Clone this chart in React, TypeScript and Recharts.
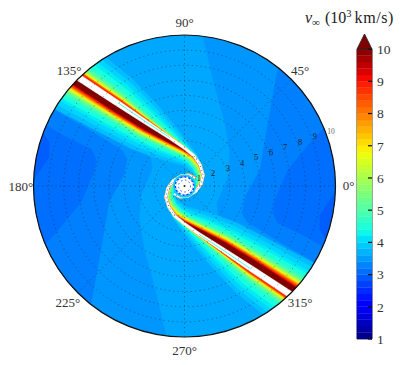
import React from 'react';
import { ScatterChart, Scatter, XAxis, YAxis, ReferenceDot, ReferenceLine, BarChart, Bar, ReferenceArea } from 'recharts';

// ---------- colour scale ----------
const cmapLo = 1;
const cmapHi = 10;
const cmapStep = 0.2;
const tickValues = [1, 2, 3, 4, 5, 6, 7, 8, 9, 10];
const clamp = (a: number) => Math.max(0, Math.min(1, a));
const hex = (a: number) => Math.round(clamp(a) * 255).toString(16).padStart(2, '0');
function jet(v: number) {
  const t = (v - cmapLo) / (cmapHi - cmapLo);
  const r = t < 0.35 ? 0 : t < 0.66 ? (t - 0.35) / 0.31 : t < 0.89 ? 1 : 1 - ((t - 0.89) / 0.11) * 0.5;
  const g = t < 0.125 ? 0 : t < 0.375 ? (t - 0.125) / 0.25 : t < 0.64 ? 1 : t < 0.91 ? 1 - (t - 0.64) / 0.27 : 0;
  const b = t < 0.11 ? 0.5 + (t / 0.11) * 0.5 : t < 0.34 ? 1 : t < 0.65 ? 1 - (t - 0.34) / 0.31 : 0;
  return '#' + hex(r) + hex(g) + hex(b);
}

// ---------- background speed contours (half of the plane; other half by point symmetry) ----------
const baseSpeed = 3.6;
const speedB0 = 3.45;
const contourB0 = [[1.23,10.99],[1.23,9.87],[2.02,6.56],[2.68,4.17],[3.01,2.19],[2.88,0.6],[2.15,-1.13],[2.22,-1.79],[2.88,-2.45],[3.68,-3.05],[8.97,-6.56],[10.96,-7.55],[14,-7.55],[14,10.99]];
const speedB1 = 3.25;
const contourB1 = [[6.19,9],[6.19,7.81],[5.53,4.17],[5,1.06],[4.01,-0.73],[3.81,-1.79],[4.14,-2.38],[6.85,-4.04],[8.18,-4.77],[10.3,-6.23],[14,-6.23],[14,9]];
const speedB2 = 3.1;
const contourB2 = [[10.3,4.9],[9.3,3.9],[8.64,3.25],[6.85,1.06],[5.99,-0.93],[5.86,-1.79],[6.19,-2.45],[7.98,-3.31],[10.63,-4.9],[14,-4.9],[14,4.9]];
const speedB3 = 2.95;
const contourB3 = [[10.63,0.4],[10.1,-0.26],[8.97,-1.92],[8.97,-2.91],[9.5,-3.71],[10.63,-4.57],[12,-4.57],[12,0.4]];

// ---------- shock arm: centre line, then band half-widths (in 1/15 radial unit) per station ----------
const armCentre = [[-7.72,7.65],[-4.4,5.46],[-2.42,4.14],[-0.96,3.18],[0.03,2.48],[0.63,1.99],[1.03,1.39],[1.23,0.73],[1.09,0.13],[0.76,-0.33],[0.23,-0.66],[-0.3,-0.73],[-0.7,-0.53]];
const armSpeeds = [3.8, 4.0, 4.2, 4.4, 4.6, 5.0, 5.5, 6.2, 6.8, 7.3, 7.8, 8.3, 8.8, 9.5, 10];
const armSouth = [
  [40,34,30,24,18,14,12,10,9,8,7,6,5],
  [35,30,26,20,15,12,10,8.5,7.5,6.5,5.5,5,4],
  [30,26,22,17,12,10,8,7,6,5,4,4,3],
  [27,23,19.5,15,10.5,9,7.5,6.5,5.5,4.5,3.5,3,2],
  [24,20,17,13,9,8,7,6,5,4,3,2,1],
  [21.5,18,15.5,11.5,8,7,6,5,4,3,2,1.5,0.8],
  [19,16,14,10,7,6,5,4,3,2,1,1,0.5],
  [17,14.5,12.5,9,6,5,3.5,2.5,2,1.5,1,1,0.5],
  [15,13,11.2,8,5,4,2.5,1.5,1,1,1,0.5,0.5],
  [14,12.3,10.4,7.2,4.2,3,2,1,1,1,1,0.5,0.5],
  [13,11.5,9.6,6.4,3.5,2,1.5,1,1,1,1,0.5,0.5],
  [12,10.7,9,5.8,3,1.5,1,1,1,1,1,0.5,0.5],
  [11,10,8.5,5.2,2.5,1,1,1,1,1,1,0.5,0.5],
  [9.5,9,7.5,4.8,2,1,1,1,1,1,1,0.5,0.5],
  [8.6,8.2,7,4.3,1.5,1,1,1,1,1,1,0.5,0.5],
];
const armNorth = [
  [34,28,20,12,6,3,2,1.3,1,1,1,1,1],
  [29,24,16.5,9.5,4.5,2.5,1.5,1,1,1,1,1,1],
  [24,20,13,7,3,2,1,1,1,1,1,1,1],
  [20,16.5,10.5,5.5,2.5,1.5,1,1,1,1,1,1,1],
  [16,13,8,4,2,1,1,1,1,1,1,1,1],
  [13.5,11,6.5,3.2,1.7,1,1,1,1,1,1,1,1],
  [11,9,5,2.5,1.5,1,1,1,1,1,1,1,1],
  [9,7.5,4.2,2.2,1.2,1,1,1,1,1,1,1,1],
  [7.5,6,3.5,2,1,1,1,1,1,1,1,1,1],
  [6.7,5.5,3.2,1.7,1,1,1,1,1,1,1,1,1],
  [6,5,3,1.5,1,1,1,1,1,1,1,1,1],
  [5.5,4.5,2.7,1.4,1,1,1,1,1,1,1,1,1],
  [5,4,2.5,1.3,1,1,1,1,1,1,1,1,1],
  [0,0,0,0,0,0,0,0,0,0,0,0,0],
  [0,0,0,0,0,0,0,0,0,0,0,0,0],
];
const whiteHalf = [3.2,2.8,2.1,1.5,1.3,1.3,1.3,1.3,1.3,1.3,1.3,1,0.8];
const hookDots = [[0.63,1.99],[1.03,1.39],[1.23,0.73],[1.09,0.13],[0.76,-0.33],[0.23,-0.66],[-0.3,-0.73],[-0.7,-0.53]];
const coreStreak = [[-4.4,5.5],[-2.42,4.16],[-0.96,3.2]];

// ---------- axes ----------
const gridRadii = [1, 2, 3, 4, 5, 6, 7, 8, 9];
const spokes = [[10,0],[7.07,7.07],[0,10],[-7.07,7.07]];
const angleLabels = [
  { t: '0°', x: 10.86, y: 0.07 }, { t: '45°', x: 7.65, y: 7.68 }, { t: '90°', x: 0, y: 10.86 }, { t: '135°', x: -7.65, y: 7.68 },
  { t: '180°', x: -10.83, y: 0 }, { t: '225°', x: -7.72, y: -7.68 }, { t: '270°', x: 0, y: -10.86 }, { t: '315°', x: 7.65, y: -7.68 },
];
const radialLabels = [[0.96,0.53],[1.89,0.86],[2.88,1.19],[3.81,1.52],[4.74,1.92],[5.73,2.25],[6.66,2.58],[7.65,2.91],[8.64,3.31],[9.7,3.64]];

// ---------- layout ----------
const W = 408, H = 365, CX = 184.5, CY = 186, UNIT = 15.1;
const xDomain = [-CX / UNIT, (W - CX) / UNIT];
const yDomain = [-(H - CY) / UNIT, CY / UNIT];
const layer: React.CSSProperties = { position: 'absolute', left: 0, top: 0, width: W, height: H };

const toPts = (a: number[][]) => a.map(([x, y]) => ({ x, y }));
const flip = (a: number[][]) => a.map(([x, y]) => [-x, -y]);
const close = (a: number[][]) => [...a, a[0]];

function ribbon(line: number[][], south: number[], north: number[]) {
  const normals = line.map((_, i) => {
    const p = line[Math.max(0, i - 1)], q = line[Math.min(line.length - 1, i + 1)];
    const dx = q[0] - p[0], dy = q[1] - p[1], l = Math.hypot(dx, dy);
    return [dy / l, -dx / l];
  });
  const s = line.map((p, i) => [p[0] + (normals[i][0] * south[i]) / 15, p[1] + (normals[i][1] * south[i]) / 15]);
  const n = line.map((p, i) => [p[0] - (normals[i][0] * north[i]) / 15, p[1] - (normals[i][1] * north[i]) / 15]);
  return [...s, ...n.reverse()];
}

const NoDot = () => <g />;
const fillPoly = (key: string, poly: number[][], color: string) => (
  <Scatter key={key} data={toPts(close(poly))} dataKey="y" isAnimationActive={false} shape={NoDot} line={{ fill: color, stroke: color, strokeWidth: 0.5 }} />
);
const linePoly = (key: string, pts: number[][], color: string, w: number, dash?: string) => (
  <Scatter key={key} data={toPts(pts)} dataKey="y" isAnimationActive={false} shape={NoDot} line={{ fill: 'none', stroke: color, strokeWidth: w, strokeDasharray: dash }} />
);

const contours: [number, number[][]][] = [[speedB0, contourB0], [speedB1, contourB1], [speedB2, contourB2], [speedB3, contourB3]];
const whitePoly = ribbon(armCentre, whiteHalf, whiteHalf);
const square = [[-14, -14], [14, -14], [14, 14], [-14, 14]];

// colour-bar table
const levelKeys: string[] = [];
const levelRow: Record<string, number> = { base: cmapLo };
for (let i = 0; i < Math.round((cmapHi - cmapLo) / cmapStep); i++) {
  levelKeys.push('l' + i);
  levelRow['l' + i] = cmapStep;
}
levelRow.over = 0.47;
const cbData = [{ name: 'v', ...levelRow }];

const Arrow = (p: any) => (
  <path d={`M${p.x},${p.y + p.height}L${p.x + p.width / 2},${p.y}L${p.x + p.width},${p.y + p.height}Z`} fill={jet(10)} stroke="#222" strokeWidth={0.9} />
);

const serif = '"Liberation Serif", serif';

export default function App() {
  return (
    <div style={{ position: 'absolute', left: 0, top: 0, width: W, height: H, background: '#fff' }}>
      <div style={{ ...layer, clipPath: `circle(${UNIT * 10}px at ${CX}px ${CY}px)` }}>
        <ScatterChart width={W} height={H} margin={{ top: 0, right: 0, bottom: 0, left: 0 }}>
          <XAxis type="number" dataKey="x" domain={xDomain} hide allowDataOverflow />
          <YAxis type="number" dataKey="y" domain={yDomain} hide allowDataOverflow />
          {fillPoly('base', square, jet(baseSpeed))}
          {contours.map(([v, c], i) => fillPoly('c' + i, c, jet(v)))}
          {contours.map(([v, c], i) => fillPoly('m' + i, flip(c), jet(v)))}
          {armSpeeds.map((v, i) => fillPoly('a' + i, ribbon(armCentre, armSouth[i], armNorth[i]), jet(v)))}
          {armSpeeds.map((v, i) => fillPoly('b' + i, flip(ribbon(armCentre, armSouth[i], armNorth[i])), jet(v)))}
          {fillPoly('wa', whitePoly, '#ffffff')}
          {fillPoly('wb', flip(whitePoly), '#ffffff')}
          {linePoly('sa', coreStreak, jet(4.6), 0.8)}
          {linePoly('sb', flip(coreStreak), jet(4.6), 0.8)}
          {linePoly('da', hookDots, '#2a8cff', 1, '1 3')}
          {linePoly('db', flip(hookDots), '#2a8cff', 1, '1 3')}
        </ScatterChart>
      </div>

      <div style={layer}>
        <ScatterChart width={W} height={H} margin={{ top: 0, right: 0, bottom: 0, left: 0 }}>
          <XAxis type="number" dataKey="x" domain={xDomain} hide allowDataOverflow />
          <YAxis type="number" dataKey="y" domain={yDomain} hide allowDataOverflow />
          <ReferenceDot x={0} y={0} r={11.5} fill={jet(4)} stroke="none" ifOverflow="visible" />
          <ReferenceDot x={0} y={0} r={10} fill={jet(2.8)} stroke="none" ifOverflow="visible" />
          <ReferenceDot x={0} y={0} r={8.5} fill="#fff" stroke="none" ifOverflow="visible" />
          <ReferenceDot x={0} y={0} r={9} fill="none" stroke="#fff" strokeWidth={1.2} strokeDasharray="2 2" ifOverflow="visible" />
          <ReferenceDot x={0} y={0} r={6} fill="none" stroke="#2060ff" strokeWidth={1} strokeDasharray="1.5 2.5" ifOverflow="visible" />
          {gridRadii.map((r) => (
            <ReferenceDot key={r} x={0} y={0} r={r * UNIT} fill="none" stroke="#222" strokeOpacity={0.65} strokeWidth={0.7} strokeDasharray="1.2 3.2" ifOverflow="visible" />
          ))}
          {spokes.map(([x, y], i) => (
            <ReferenceLine key={i} segment={[{ x: -x, y: -y }, { x, y }]} stroke="#222" strokeOpacity={0.65} strokeWidth={0.7} strokeDasharray="1.2 3.2" ifOverflow="visible" />
          ))}
          <ReferenceDot x={0} y={0} r={10 * UNIT} fill="none" stroke="#111" strokeWidth={1.2} ifOverflow="visible" />
          <ReferenceDot x={0} y={0} r={1} fill="#222" stroke="none" ifOverflow="visible" />
          {radialLabels.map(([x, y], i) => (
            <ReferenceDot key={i} x={x} y={y} r={0} stroke="none" ifOverflow="visible"
              label={{ value: String(i + 1), position: 'center', fontSize: i === 9 ? 7.5 : 8.5, fontFamily: serif, fill: i === 9 ? '#666' : '#222' }} />
          ))}
          {angleLabels.map((a) => (
            <ReferenceDot key={a.t} x={a.x} y={a.y} r={0} stroke="none" ifOverflow="visible"
              label={{ value: a.t, position: 'center', fontSize: 13, fontFamily: serif, fill: '#333' }} />
          ))}
          <text x={305} y={23} fontFamily={serif} fontSize={16} fill="#222">
            <tspan fontStyle="italic">v</tspan>
            <tspan fontSize={11} dy={3}>∞</tspan>
            <tspan dy={-3} dx={5}>(10</tspan>
            <tspan fontSize={10.5} dy={-6}>3</tspan>
            <tspan dy={6} dx={3} letterSpacing={0.6}>km/s)</tspan>
          </text>
        </ScatterChart>
      </div>

      <div style={layer}>
        <BarChart width={W} height={H} data={cbData} margin={{ top: 34, right: 0, bottom: 26, left: 357 }} barCategoryGap={0}>
          <XAxis dataKey="name" hide />
          <YAxis orientation="right" width={36} type="number" domain={[1, 10.47]} ticks={tickValues} allowDataOverflow axisLine={false}
            tickSize={-4} tickMargin={9} tickLine={{ stroke: '#111', strokeWidth: 1.2 }}
            tick={{ fontSize: 13.5, fontFamily: serif, fill: '#333' }} />
          <Bar dataKey="base" stackId="c" fill="none" isAnimationActive={false} />
          {levelKeys.map((k, i) => (
            <Bar key={k} dataKey={k} stackId="c" fill={jet(cmapLo + (i + 0.5) * cmapStep)} stroke={jet(cmapLo + (i + 0.5) * cmapStep)} strokeWidth={0.3} isAnimationActive={false} />
          ))}
          <Bar dataKey="over" stackId="c" shape={Arrow} isAnimationActive={false} />
          <ReferenceArea y1={1} y2={10} fill="none" stroke="#222" strokeWidth={0.9} ifOverflow="visible" />
        </BarChart>
      </div>
    </div>
  );
}
